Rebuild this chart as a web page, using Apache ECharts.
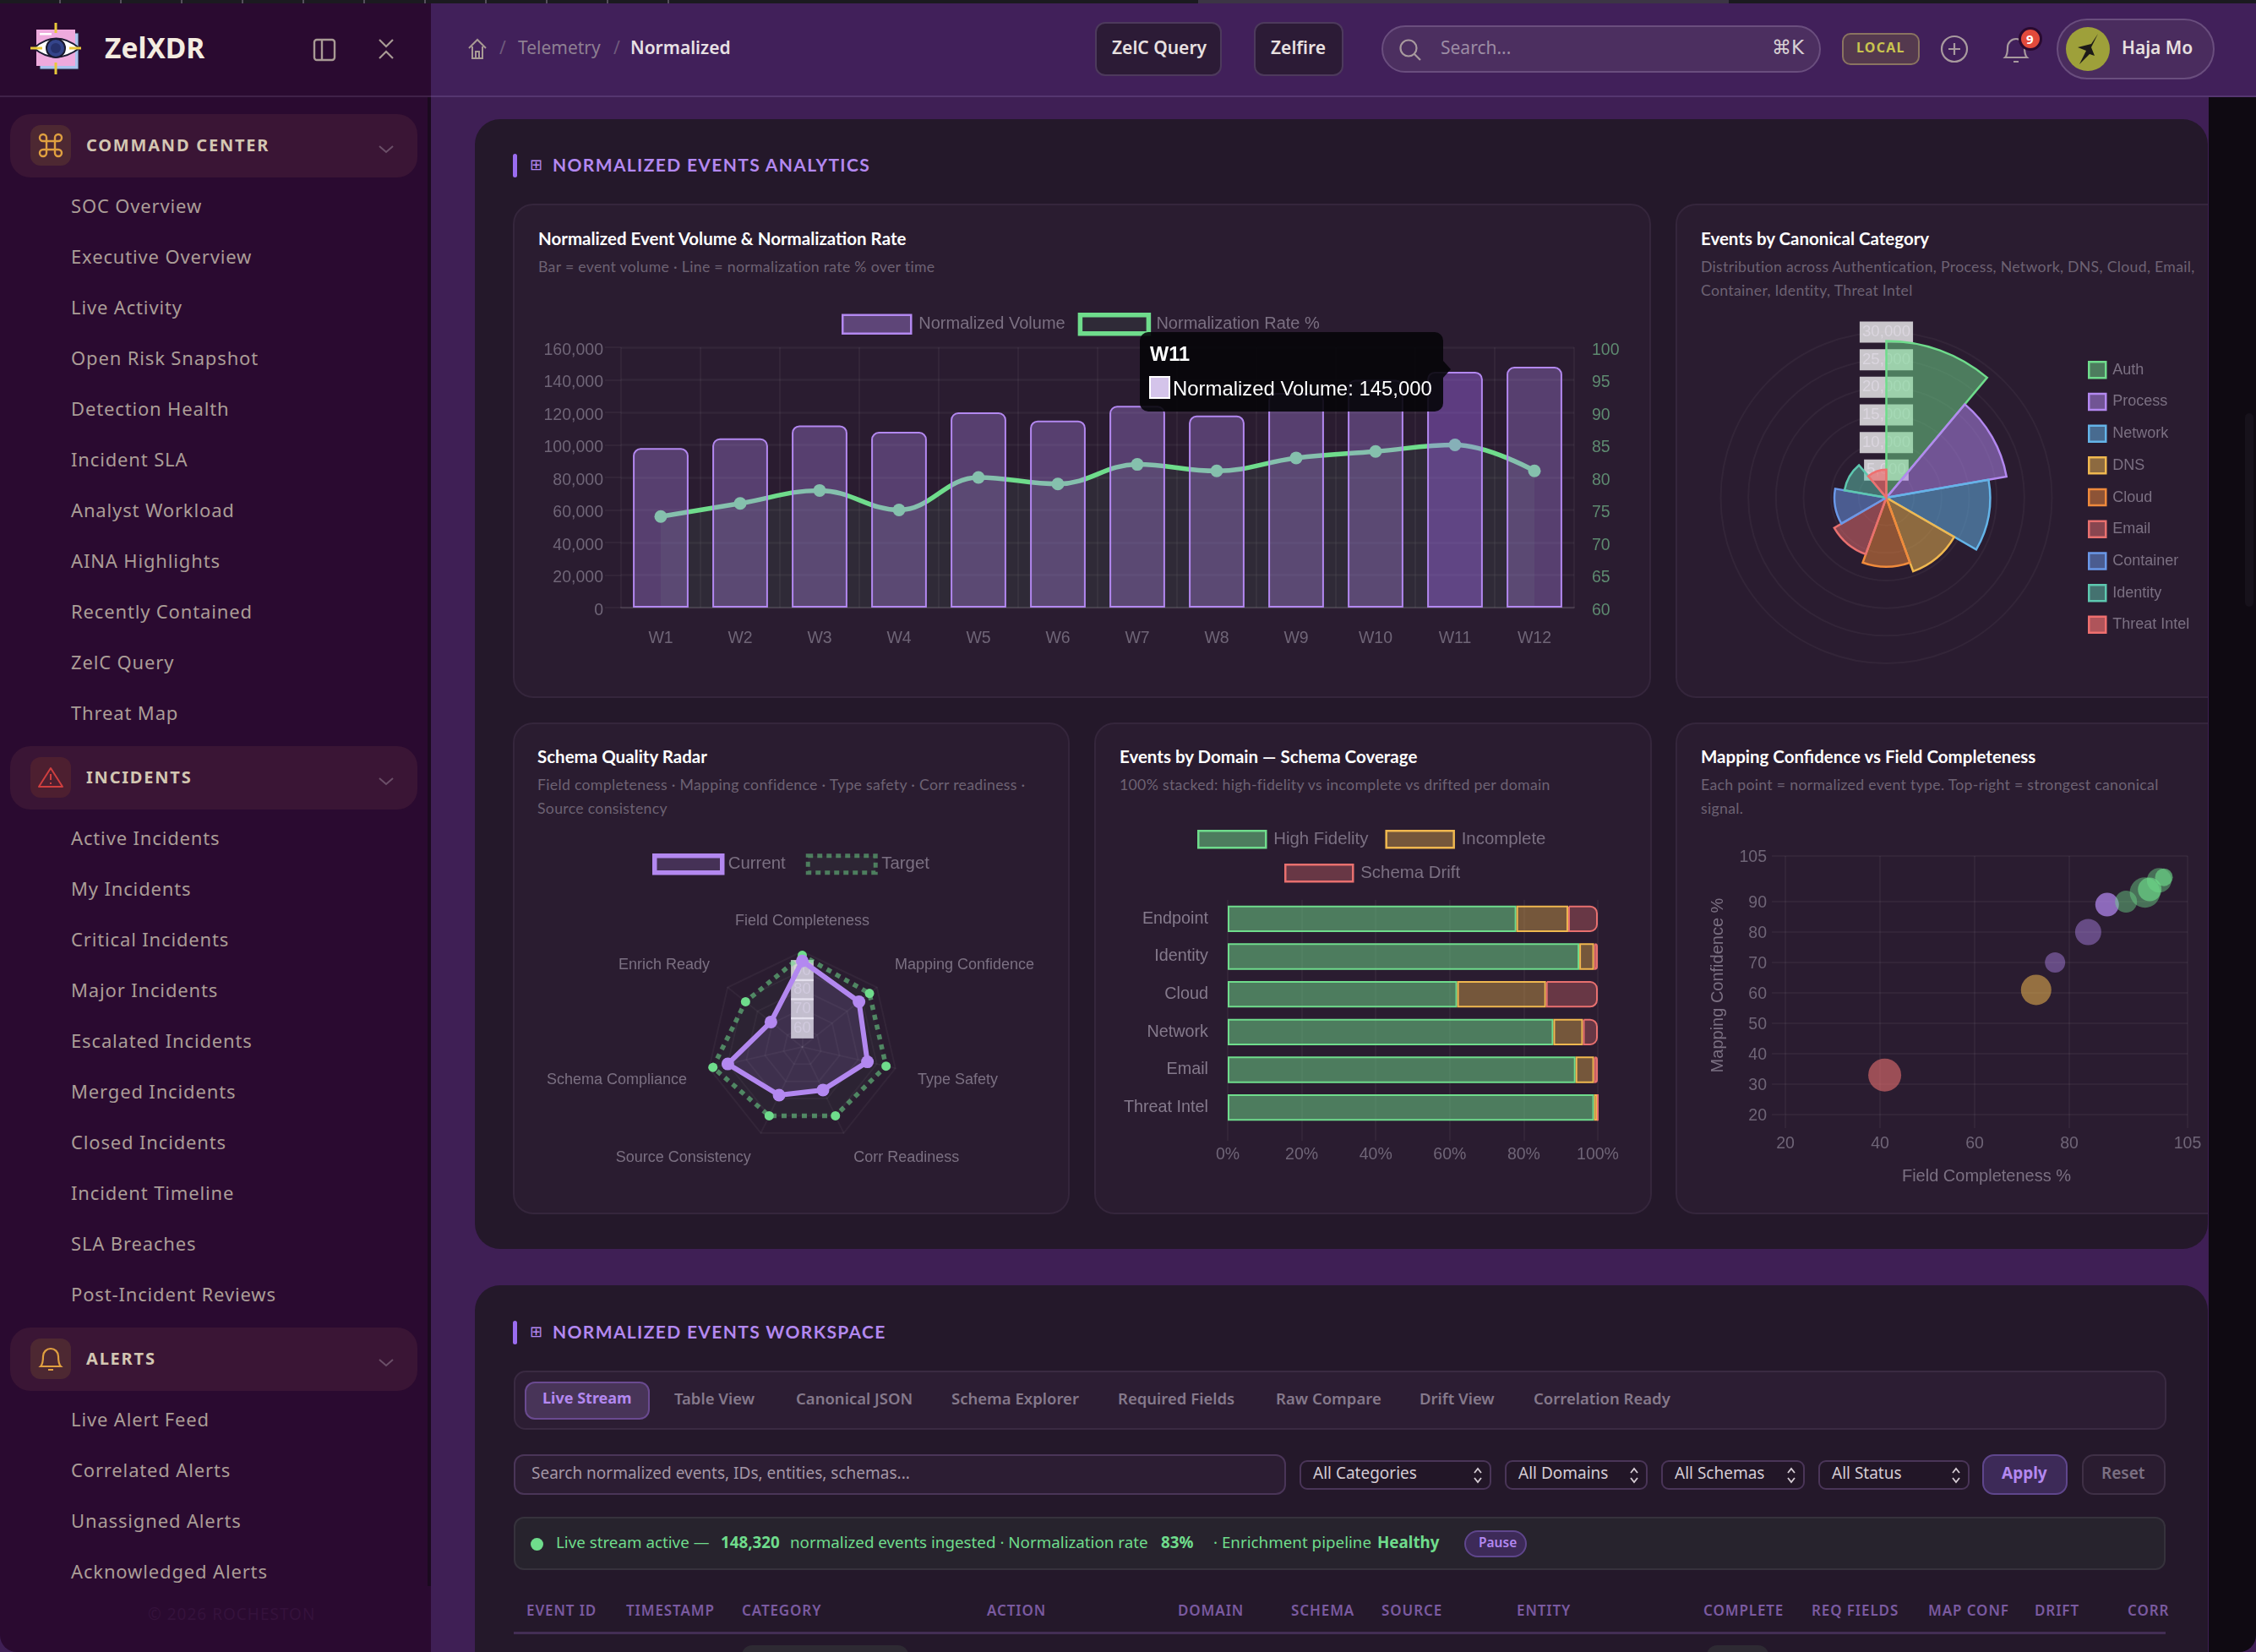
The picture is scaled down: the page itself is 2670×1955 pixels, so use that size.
<!DOCTYPE html>
<html>
<head>
<meta charset="utf-8">
<title>ZelXDR - Normalized</title>
<script src="https://cdn.jsdelivr.net/npm/echarts@6/dist/echarts.min.js"></script>
<style>
html, body { margin: 0; padding: 0; width: 2670px; height: 1955px; overflow: hidden; background: #3f1f55; font-family: "Noto Sans", sans-serif; }
#page { position: absolute; left: 0; top: 0; width: 2670px; height: 1955px; overflow: hidden; }
.box { position: absolute; box-sizing: border-box; }
.t { position: absolute; white-space: nowrap; transform: translateY(-50%); line-height: 1.2; }
.cardTitle { font-family: Lato, sans-serif; font-weight: 700; font-size: 20.5px; color: #ffffff; }
.cardSub { font-family: Lato, sans-serif; font-size: 17.7px; color: #6d6273; letter-spacing: .3px; }
.navItem { font-size: 22px; letter-spacing: .85px; color: #ab9d97; }
.navHead { font-size: 20px; font-weight: 700; letter-spacing: 1.8px; color: #d3c6b2; }
.secTitle { font-family: Lato, sans-serif; font-weight: 700; font-size: 21px; letter-spacing: 1.35px; color: #b388f0; }
.tab { font-size: 18.5px; font-weight: 600; color: #85798b; }
.thead { font-size: 17px; font-weight: 600; letter-spacing: .9px; color: #7a5aa0; }
.live { font-size: 18.8px; color: #6fdc8c; }
.chart { position: absolute; }
</style>
</head>
<body>
<div id="page"></div>
<script>
// 周次柱线图
var weeks = ['W1', 'W2', 'W3', 'W4', 'W5', 'W6', 'W7', 'W8', 'W9', 'W10', 'W11', 'W12'];
var normalizedVolume = [98000, 104000, 112000, 108000, 120000, 115000, 124000, 118000, 132000, 140000, 145000, 148000];
var normalizationRate = [74, 76, 78, 75, 80, 79, 82, 81, 83, 84, 85, 81];

// 分类极坐标图
var categories = ['Auth', 'Process', 'Network', 'DNS', 'Cloud', 'Email', 'Container', 'Identity', 'Threat Intel'];
var categoryEvents = [28400, 22100, 18800, 14200, 12500, 10900, 9400, 7700, 5100];

// 雷达图 (clockwise from the top)
var radarAxes = ['Field Completeness', 'Mapping Confidence', 'Type Safety', 'Corr Readiness', 'Source Consistency', 'Schema Compliance', 'Enrich Ready'];
var radarCurrent = [95, 88, 85, 75, 78, 90, 71];
var radarTarget = [98, 95, 95, 90, 90, 98, 88];

// 域堆叠图
var domains = ['Endpoint', 'Identity', 'Cloud', 'Network', 'Email', 'Threat Intel'];
var highFidelity = [78, 95, 62, 88, 94, 99];
var incomplete = [14, 4, 24, 8, 5, 1];
var schemaDrift = [8, 1, 14, 4, 1, 0];

// 气泡图
var bubbleCompleteness = [41, 73, 77, 84, 88, 92, 96, 97, 99, 100];
var bubbleConfidence = [33, 61, 70, 80, 89, 90, 93, 94, 97, 98];
var bubbleSize = [39, 36, 24, 31, 28, 26, 36, 28, 29, 21];
var bubbleTone = ['red', 'amber', 'purple', 'purple', 'purpleHi', 'green', 'green', 'greenHi', 'green', 'greenHi'];
var bubbleXTicks = [20, 40, 60, 80, 105];
var bubbleYTicks = [20, 30, 40, 50, 60, 70, 80, 90, 105];

// 侧边栏
var navCommand = ['SOC Overview', 'Executive Overview', 'Live Activity', 'Open Risk Snapshot', 'Detection Health', 'Incident SLA', 'Analyst Workload', 'AINA Highlights', 'Recently Contained', 'ZelC Query', 'Threat Map'];
var navIncidents = ['Active Incidents', 'My Incidents', 'Critical Incidents', 'Major Incidents', 'Escalated Incidents', 'Merged Incidents', 'Closed Incidents', 'Incident Timeline', 'SLA Breaches', 'Post-Incident Reviews'];
var navAlerts = ['Live Alert Feed', 'Correlated Alerts', 'Unassigned Alerts', 'Acknowledged Alerts'];

var GREEN = '#6fdc8c', PURPLE = '#b388f0', AMBER = '#f0b84f', RED = '#e8706f';
var TICK = '#6f6577', NAME = '#7b7082', GRID = 'rgba(255,255,255,0.045)';
var CHART_FONT = '"Liberation Sans", Arial, sans-serif';

var page = document.getElementById('page');

function box(x, y, w, h, css, parent) {
    var d = document.createElement('div');
    d.className = 'box';
    d.style.cssText = 'left:' + x + 'px;top:' + y + 'px;width:' + w + 'px;height:' + h + 'px;' + (css || '');
    (parent || page).appendChild(d);
    return d;
}

function text(x, y, str, cls, css, parent) {
    var d = document.createElement('div');
    d.className = 't ' + (cls || '');
    d.style.cssText = 'left:' + x + 'px;top:' + y + 'px;' + (css || '');
    d.textContent = str;
    (parent || page).appendChild(d);
    return d;
}

function svg(x, y, w, h, inner, vb) {
    var d = box(x, y, w, h);
    d.innerHTML = '<svg width="' + w + '" height="' + h + '" viewBox="' + (vb || ('0 0 ' + w + ' ' + h)) + '" fill="none" xmlns="http://www.w3.org/2000/svg">' + inner + '</svg>';
    return d;
}

function chartDiv(x, y, w, h) {
    var d = document.createElement('div');
    d.className = 'chart';
    d.style.cssText = 'left:' + x + 'px;top:' + y + 'px;width:' + w + 'px;height:' + h + 'px;';
    page.appendChild(d);
    return d;
}

// ---------- 页面外壳 ----------
function drawShell() {
    // top strip
    box(0, 0, 2670, 4, 'background:repeating-linear-gradient(90deg,#1b1a20 0,#1b1a20 70px,#55505c 70px,#55505c 72px);');
    box(800, 0, 1870, 4, 'background:#1b1a20;');
    box(1418, 0, 628, 4, 'background:#3c3545;');

    // header
    box(510, 4, 2160, 109, 'background:#41205a;');
    box(510, 113, 2160, 2, 'background:#553670;');

    // main scrollbar gutter
    box(2614, 115, 56, 1840, 'background:#0f0a12;border-bottom-right-radius:20px;');
    box(2657, 489, 10, 229, 'background:#17121b;border-radius:5px;');

    // sidebar
    box(0, 4, 510, 1951, 'background:#2a0a30;border-bottom-left-radius:20px;');
    box(0, 113, 510, 2, 'background:#3f2148;');
    box(506, 115, 4, 1762, 'background:#1a0a1e;');

    svg(34, 24, 66, 66,
        '<rect x="13" y="15" width="46" height="43" fill="#a9c4ee" stroke="#23233a" stroke-width="1"/>' +
        '<rect x="9" y="11" width="46" height="43" fill="#eeaadd"/>' +
        '<rect x="13" y="15" width="14" height="2.5" fill="#fff"/>' +
        '<path d="M6 33 Q32 10 60 33 Q32 54 6 33Z" fill="#fff" stroke="#1a1a30" stroke-width="2"/>' +
        '<circle cx="32" cy="33" r="11" fill="#34448a" stroke="#1a1a30" stroke-width="2"/>' +
        '<circle cx="32" cy="33" r="6" fill="#26306a"/>' +
        '<path d="M32 3V15M32 50V64M2 33H16M48 33H62" stroke="#e8c83a" stroke-width="3"/>');
    text(124, 56, 'ZelXDR', '', 'font-size:33.5px;font-weight:700;color:#f4ece0;');
    svg(370, 45, 28, 28, '<rect x="2" y="2" width="24" height="24" rx="3" stroke="#a89a94" stroke-width="2.4"/><path d="M11 2V26" stroke="#a89a94" stroke-width="2.4"/>');
    svg(447, 44, 20, 28, '<path d="M2 3L10 11L18 3M2 25L10 17L18 25" stroke="#a89a94" stroke-width="2.2"/>');

    // sidebar groups
    function group(y, y0, title, items, icon, iconBg) {
        box(12, y - 37, 482, 75, 'background:#3a1535;border-radius:24px;');
        box(36, y - 24, 48, 48, 'background:' + iconBg + ';border-radius:12px;');
        svg(42, y - 18, 36, 36, icon);
        text(102, y, title, 'navHead');
        svg(447, y - 6, 20, 12, '<path d="M2 2L10 9L18 2" stroke="#6b4f68" stroke-width="2"/>');
        items.forEach(function (s, i) {
            text(84, y0 + i * 60, s, 'navItem');
        });
    }
    group(172, 243, 'COMMAND CENTER', navCommand,
        '<path d="M13 13H23V23H13ZM13 13V9A4 4 0 1 0 9 13H13M23 13H27A4 4 0 1 0 23 9V13M23 23V27A4 4 0 1 0 27 23H23M13 23H9A4 4 0 1 0 13 27V23" stroke="#e0a040" stroke-width="2.4"/>', '#4d2832');
    group(920, 991, 'INCIDENTS', navIncidents,
        '<path d="M18 7L32 29H4Z" stroke="#cf3f3f" stroke-width="2" stroke-linejoin="round"/><path d="M18 14V21M18 24V26" stroke="#cf3f3f" stroke-width="2"/>', '#4d1f30');
    group(1608, 1679, 'ALERTS', navAlerts,
        '<path d="M6 27C9 24 9 20 9 15A9 9 0 0 1 27 15C27 20 27 24 30 27ZM15 31H21" stroke="#e0a040" stroke-width="2.2"/>', '#4d2832');
    text(175, 1910, '© 2026 ROCHESTON', '', 'font-size:19px;letter-spacing:1px;color:#35123c;');

    // breadcrumb
    svg(553, 44, 24, 28, '<path d="M2 13L12 3L22 13M6 11V25H18V11M10 25V17H14V25" stroke="#a89a94" stroke-width="2"/>');
    text(591, 57, '/', '', 'font-size:21px;color:#6f5a7c;');
    text(613, 57, 'Telemetry', '', 'font-size:21px;color:#8e7f92;');
    text(726, 57, '/', '', 'font-size:21px;color:#6f5a7c;');
    text(746, 57, 'Normalized', '', 'font-size:21px;font-weight:600;color:#e8e0e4;');

    // header buttons
    box(1296, 26, 150, 64, 'background:#2c1b36;border:2px solid #4d3a5c;border-radius:12px;');
    text(1316, 57, 'ZelC Query', '', 'font-size:21px;font-weight:600;color:#e8e0e0;');
    box(1484, 26, 106, 64, 'background:#2c1b36;border:2px solid #4d3a5c;border-radius:12px;');
    text(1504, 57, 'Zelfire', '', 'font-size:21px;font-weight:600;color:#e8e0e0;');
    box(1635, 30, 520, 56, 'background:#4c2f60;border:2px solid #6a4e7e;border-radius:28px;');
    svg(1654, 44, 30, 30, '<circle cx="13" cy="13" r="9.5" stroke="#a89a9e" stroke-width="2.2"/><path d="M20 20L27 27" stroke="#a89a9e" stroke-width="2.2"/>');
    text(1705, 57, 'Search...', '', 'font-size:21px;color:#9c8ca4;');
    text(2097, 57, '⌘K', '', 'font-family:\'DejaVu Sans\';font-size:23px;color:#d8d0d4;');
    box(2180, 39, 92, 38, 'background:#54394e;border:2px solid #8a7460;border-radius:10px;');
    text(2197, 57, 'LOCAL', '', 'font-size:16px;font-weight:700;letter-spacing:1.2px;color:#c9c44f;');
    svg(2296, 41, 34, 34, '<circle cx="17" cy="17" r="15" stroke="#a89a9e" stroke-width="2.2"/><path d="M17 10V24M10 17H24" stroke="#a89a9e" stroke-width="2.2"/>');
    svg(2370, 42, 32, 34, '<path d="M3 26C6 23 6 19 6 14A10 10 0 0 1 26 14C26 19 26 23 29 26ZM13 31H19" stroke="#a89a9e" stroke-width="2.2"/>');
    box(2389, 32, 28, 28, 'background:#e24a3c;border:3px solid #2a0a30;border-radius:50%;');
    text(2398, 46, '9', '', 'font-size:15px;font-weight:700;color:#fff;');
    box(2434, 22, 187, 72, 'background:#4a2c5e;border:2px solid #6a4e7e;border-radius:36px;');
    svg(2445, 32, 52, 52, '<circle cx="26" cy="26" r="26" fill="#9ea03a"/><path d="M38 8L30 20L14 24L24 28L16 44L28 32L34 34L30 24Z" fill="#1c1a18"/>');
    text(2511, 57, 'Haja Mo', '', 'font-size:21px;font-weight:600;color:#e8e0e0;');

    // analytics panel
    box(562, 141, 2051, 1337, 'background:#24182a;border-radius:30px 30px 30px 30px;');
    box(607, 182, 5, 28, 'background:#9a6cf0;border-radius:3px;');
    text(627, 195, '⊞', '', 'font-family:\'DejaVu Sans\';font-size:18px;color:#b388f0;');
    text(654, 195, 'NORMALIZED EVENTS ANALYTICS', 'secTitle');

    var cardCss = 'background:#2a1c30;border:2px solid #35263c;border-radius:24px;';
    box(607, 241, 1347, 585, cardCss);
    box(1983, 241, 630, 585, cardCss + 'border-right:none;border-radius:24px 0 0 24px;');
    box(607, 855, 659, 582, cardCss);
    box(1295, 855, 660, 582, cardCss);
    box(1983, 855, 630, 582, cardCss + 'border-right:none;border-radius:24px 0 0 24px;');

    text(637, 282, 'Normalized Event Volume & Normalization Rate', 'cardTitle');
    text(637, 316, 'Bar = event volume · Line = normalization rate % over time', 'cardSub');
    text(2013, 282, 'Events by Canonical Category', 'cardTitle');
    text(2013, 316, 'Distribution across Authentication, Process, Network, DNS, Cloud, Email,', 'cardSub');
    text(2013, 344, 'Container, Identity, Threat Intel', 'cardSub');
    text(636, 895, 'Schema Quality Radar', 'cardTitle');
    text(636, 929, 'Field completeness · Mapping confidence · Type safety · Corr readiness ·', 'cardSub');
    text(636, 957, 'Source consistency', 'cardSub');
    text(1325, 895, 'Events by Domain — Schema Coverage', 'cardTitle');
    text(1325, 929, '100% stacked: high-fidelity vs incomplete vs drifted per domain', 'cardSub');
    text(2013, 895, 'Mapping Confidence vs Field Completeness', 'cardTitle');
    text(2013, 929, 'Each point = normalized event type. Top-right = strongest canonical', 'cardSub');
    text(2013, 957, 'signal.', 'cardSub');

    // workspace panel
    box(562, 1521, 2051, 460, 'background:#24182a;border-radius:30px 30px 0 0;');
    box(607, 1563, 5, 28, 'background:#9a6cf0;border-radius:3px;');
    text(627, 1576, '⊞', '', 'font-family:\'DejaVu Sans\';font-size:18px;color:#b388f0;');
    text(654, 1576, 'NORMALIZED EVENTS WORKSPACE', 'secTitle');

    box(608, 1622, 1956, 70, 'background:#2c1d33;border:2px solid #3a2a42;border-radius:14px;');
    box(621, 1635, 148, 45, 'background:#483458;border:2px solid #6a4a90;border-radius:12px;');
    text(642, 1655, 'Live Stream', '', 'font-size:18px;font-weight:700;color:#b388f0;');
    var tabNames = ['Table View', 'Canonical JSON', 'Schema Explorer', 'Required Fields', 'Raw Compare', 'Drift View', 'Correlation Ready'];
    var tabX = [798, 942, 1126, 1323, 1510, 1680, 1815];
    tabNames.forEach(function (s, i) { text(tabX[i], 1655, s, 'tab'); });

    box(608, 1721, 914, 48, 'background:#2c1d33;border:2px solid #4a3558;border-radius:12px;');
    text(629, 1743, 'Search normalized events, IDs, entities, schemas...', '', 'font-size:19px;color:#a497a6;');
    var selNames = ['All Categories', 'All Domains', 'All Schemas', 'All Status'];
    var selX = [1538, 1781, 1966, 2152], selW = [227, 169, 170, 179];
    selNames.forEach(function (s, i) {
        box(selX[i], 1728, selW[i], 35, 'background:#221627;border:2px solid #4a3558;border-radius:9px;');
        text(selX[i] + 16, 1743, s, '', 'font-size:19px;color:#d5ccd4;');
        svg(selX[i] + selW[i] - 22, 1735, 12, 22, '<path d="M2 8L6 3L10 8M2 14L6 19L10 14" stroke="#d5ccd4" stroke-width="1.8"/>');
    });
    box(2346, 1721, 101, 48, 'background:#3d2a58;border:2px solid #5f468c;border-radius:14px;');
    text(2369, 1743, 'Apply', '', 'font-size:19px;font-weight:700;color:#b388f0;');
    box(2464, 1721, 99, 48, 'background:#2a1c30;border:2px solid #3f3046;border-radius:14px;');
    text(2487, 1743, 'Reset', '', 'font-size:19px;font-weight:600;color:#7b7082;');

    box(608, 1795, 1955, 63, 'background:#27232d;border:2px solid #36323c;border-radius:12px;');
    box(628, 1820, 15, 15, 'background:#6fdc8c;border-radius:50%;');
    text(658, 1825, 'Live stream active —', 'live');
    text(853, 1825, '148,320', 'live', 'font-weight:700;');
    text(935, 1825, 'normalized events ingested · Normalization rate', 'live');
    text(1374, 1825, '83%', 'live', 'font-weight:700;');
    text(1436, 1825, '· Enrichment pipeline', 'live');
    text(1630, 1825, 'Healthy', 'live', 'font-weight:700;');
    box(1733, 1811, 74, 32, 'background:#3d2a58;border:2px solid #5f468c;border-radius:16px;');
    text(1750, 1825, 'Pause', '', 'font-size:15.5px;font-weight:600;color:#b388f0;');

    var headClip = box(608, 1890, 1959, 34, 'overflow:hidden;');
    var headNames = ['EVENT ID', 'TIMESTAMP', 'CATEGORY', 'ACTION', 'DOMAIN', 'SCHEMA', 'SOURCE', 'ENTITY', 'COMPLETE', 'REQ FIELDS', 'MAP CONF', 'DRIFT', 'CORRELATION'];
    var headX = [623, 741, 878, 1168, 1394, 1528, 1635, 1795, 2016, 2144, 2282, 2408, 2518];
    headNames.forEach(function (s, i) { text(headX[i] - 608, 16, s, 'thead', '', headClip); });
    box(608, 1931, 1955, 3, 'background:#432e55;');
    box(878, 1947, 197, 30, 'background:#2e2a33;border-radius:12px 12px 0 0;');
    box(2020, 1947, 73, 30, 'background:#2e2a33;border-radius:12px 12px 0 0;');
}

drawShell();

// value axis labels sit a little under their gridline in the reference
function loweredLabel(color, pad, fmt) {
    return {
        fontSize: 19.5,
        margin: 21,
        formatter: function (v) { return '{v|' + (fmt ? fmt(v) : v) + '}'; },
        rich: { v: { color: color, fontSize: 19.5, fontFamily: CHART_FONT, padding: [pad, 0, 0, 0] } }
    };
}

// ---------- 柱线图 ----------
function volumeChart() {
    var myChart = echarts.init(chartDiv(607, 241, 1347, 585), null, { renderer: 'canvas' });
    var hoverIndex = weeks.indexOf('W11');
    var option = {
        animation: false,
        textStyle: { fontFamily: CHART_FONT },
        legend: {
            left: 384, top: 124, itemWidth: 81, itemHeight: 22, itemGap: 15,
            selectedMode: false,
            textStyle: { color: NAME, fontSize: 20, padding: [0, 0, 0, 4] },
            data: [
                { name: 'Normalized Volume', icon: 'rect', itemStyle: { color: 'rgba(179,136,240,0.38)', borderColor: PURPLE, borderWidth: 2.5 } },
                { name: 'Normalization Rate %', icon: 'rect', itemStyle: { color: 'rgba(111,220,140,0.08)', borderColor: GREEN, borderWidth: 5.5 } }
            ]
        },
        tooltip: {
            trigger: 'item',
            alwaysShowContent: true,
            transitionDuration: 0,
            position: [742, 152],
            padding: 0,
            borderWidth: 0,
            backgroundColor: 'rgba(6,5,9,0.9)',
            extraCssText: 'border-radius:10px;box-shadow:none;width:359px;height:94px;box-sizing:border-box;',
            formatter: function (p) {
                return '<div style="position:relative;width:359px;height:94px;font-family:' + "'Liberation Sans'" + ';color:#fff;">' +
                    '<div style="position:absolute;left:12px;top:13px;font-weight:700;font-size:23.5px;line-height:27px;">' + p.name + '</div>' +
                    '<div style="position:absolute;left:11px;top:52px;width:25px;height:27px;box-sizing:border-box;background:#d4c4ea;border:2px solid #fff;"></div>' +
                    '<div style="position:absolute;left:39px;top:53px;font-size:23.9px;line-height:27px;white-space:nowrap;">' + p.seriesName + ': ' + p.value.toLocaleString('en-US') + '</div>' +
                    '<div style="position:absolute;right:-9px;top:34px;width:0;height:0;border-top:10px solid transparent;border-bottom:10px solid transparent;border-left:9px solid rgba(6,5,9,0.9);"></div>' +
                    '</div>';
            }
        },
        grid: { left: 128, right: 91, top: 170, bottom: 107 },
        xAxis: {
            type: 'category',
            data: weeks,
            axisLine: { lineStyle: { color: 'rgba(255,255,255,0.1)', width: 2 } },
            axisTick: { length: 16, lineStyle: { color: GRID, width: 2 } },
            axisLabel: { color: TICK, fontSize: 19.5, margin: 27 },
            splitLine: { show: true, lineStyle: { color: GRID, width: 2 } }
        },
        yAxis: [
            {
                type: 'value', min: 0, max: 160000, interval: 20000,
                axisLine: { show: false },
                axisTick: { show: true, length: 19, lineStyle: { color: GRID, width: 2 } },
                axisLabel: loweredLabel(TICK, 7, function (v) { return v.toLocaleString('en-US'); }),
                splitLine: { lineStyle: { color: GRID, width: 2.5 } }
            },
            {
                type: 'value', min: 60, max: 100, interval: 5,
                axisLine: { show: false },
                axisTick: { show: false },
                axisLabel: loweredLabel('#5e8a70', 7),
                splitLine: { show: false }
            }
        ],
        series: [
            {
                name: 'Normalized Volume',
                type: 'bar',
                z: 3,
                barWidth: '70%',
                itemStyle: { color: 'rgba(179,136,240,0.33)', borderColor: PURPLE, borderWidth: 2, borderRadius: [8, 8, 0, 0] },
                data: normalizedVolume.map(function (v, i) {
                    return i === hoverIndex ? { value: v, itemStyle: { color: 'rgba(170,110,250,0.4)' } } : v;
                })
            },
            {
                name: 'Normalization Rate %',
                type: 'line',
                yAxisIndex: 1,
                z: 2,
                smooth: 0.4,
                symbol: 'circle',
                symbolSize: 15,
                lineStyle: { color: GREEN, width: 5.5 },
                itemStyle: { color: GREEN },
                areaStyle: { color: 'rgba(111,220,140,0.11)' },
                data: normalizationRate
            }
        ]
    };
    myChart.setOption(option);
    myChart.dispatchAction({ type: 'showTip', seriesIndex: 0, dataIndex: hoverIndex });
    window.addEventListener('resize', myChart.resize);
}

// ---------- 极坐标图 ----------
function categoryChart() {
    var myChart = echarts.init(chartDiv(1983, 241, 630, 585), null, { renderer: 'canvas' });
    var strokes = [GREEN, PURPLE, '#64b4e8', AMBER, '#ef8a3c', RED, '#6a98e8', '#5ec8b0', '#ef6f6f'];
    var fills = ['rgba(111,220,140,0.5)', 'rgba(179,136,240,0.52)', 'rgba(100,180,232,0.52)', 'rgba(240,184,79,0.5)', 'rgba(239,138,60,0.5)', 'rgba(232,112,111,0.5)', 'rgba(106,152,232,0.52)', 'rgba(94,200,176,0.5)', 'rgba(239,111,111,0.68)'];
    var option = {
        animation: false,
        textStyle: { fontFamily: CHART_FONT },
        legend: {
            orient: 'vertical', left: 483, top: 181,
            itemWidth: 20, itemHeight: 19, itemGap: 16.2,
            selectedMode: false,
            textStyle: { color: NAME, fontSize: 18, padding: [0, 0, 0, 3] },
            data: categories.map(function (c, i) {
                return { name: c, icon: 'rect', itemStyle: { color: fills[i], borderColor: strokes[i], borderWidth: 2.5 } };
            })
        },
        polar: { center: [249.5, 348], radius: 196 },
        angleAxis: { type: 'category', data: categories, startAngle: 90, clockwise: true, show: false },
        radiusAxis: {
            min: 0, max: 30000, interval: 5000, z: 0,
            axisLine: { show: false },
            axisTick: { show: false },
            axisLabel: {
                showMinLabel: false, margin: 0, align: 'center', verticalAlign: 'middle',
                fontSize: 18.7, color: '#dbd6df',
                backgroundColor: 'rgba(255,255,255,0.75)', padding: [3, 3],
                formatter: function (v) { return v.toLocaleString('en-US'); }
            },
            splitLine: { show: true, lineStyle: { color: GRID, width: 2 } }
        },
        series: categories.map(function (c, i) {
            return {
                name: c,
                type: 'bar',
                coordinateSystem: 'polar',
                stack: 'category',
                barWidth: '100%',
                z: 3,
                itemStyle: { color: fills[i], borderColor: strokes[i], borderWidth: 2.5 },
                data: categoryEvents.map(function (v, j) { return j === i ? v : null; })
            };
        })
    };
    myChart.setOption(option);
    window.addEventListener('resize', myChart.resize);
}

// ---------- 雷达图 ----------
// ECharts lays indicators out counter-clockwise, the picture goes clockwise
function radarOrder(arr) {
    return [arr[0]].concat(arr.slice(1).reverse());
}

function radarChart() {
    var myChart = echarts.init(chartDiv(607, 855, 659, 582), null, { renderer: 'canvas' });
    var nameFont = { color: NAME, fontSize: 18, fontFamily: CHART_FONT };
    var option = {
        animation: false,
        textStyle: { fontFamily: CHART_FONT },
        legend: {
            left: 160, top: 150, itemWidth: 80, itemHeight: 20, itemGap: 24,
            selectedMode: false,
            textStyle: { color: NAME, fontSize: 20.4, padding: [0, 0, 0, 2] },
            data: [
                { name: 'Current', icon: 'rect', itemStyle: { color: 'rgba(179,136,240,0.2)', borderColor: PURPLE, borderWidth: 5.5 } },
                { name: 'Target', icon: 'rect', itemStyle: { color: 'rgba(111,220,140,0.05)', borderColor: 'rgba(111,220,140,0.5)', borderWidth: 5, borderType: [6, 5] } }
            ]
        },
        radar: {
            center: [342.5, 384],
            radius: 113,
            startAngle: 90,
            shape: 'polygon',
            splitNumber: 5,
            nameGap: 27,
            axisName: {
                color: NAME,
                fontSize: 18,
                // nudges the names to where the reference puts them
                formatter: function (name) {
                    var i = radarAxes.indexOf(name);
                    var row = i === 0 ? 'top' : (i === 1 || i === 6) ? 'upper' : (i === 2 || i === 5) ? 'middle' : 'lower';
                    return '{' + row + '|' + name + '}';
                },
                rich: {
                    top: Object.assign({}, nameFont),
                    upper: Object.assign({ padding: [0, 0, 20, 0] }, nameFont),
                    middle: Object.assign({ padding: [16, 0, 0, 0] }, nameFont),
                    lower: Object.assign({ padding: [9, 0, 0, 0] }, nameFont)
                }
            },
            axisLine: { lineStyle: { color: GRID, width: 2 } },
            axisTick: { show: false },
            splitLine: { lineStyle: { color: GRID, width: 2 } },
            splitArea: { show: false },
            axisLabel: { show: false },
            z: 0,
            indicator: radarOrder(radarAxes).map(function (name, i) {
                var ind = { name: name, min: 50, max: 100 };
                if (i === 0) {
                    ind.axisLabel = {
                        show: true, showMinLabel: false, margin: 0, align: 'center', verticalAlign: 'middle',
                        fontSize: 18.7, color: '#dbd6df',
                        backgroundColor: 'rgba(255,255,255,0.75)', padding: [3, 3]
                    };
                }
                return ind;
            })
        },
        series: [
            {
                type: 'radar',
                z: 3,
                data: [
                    {
                        name: 'Target',
                        value: radarOrder(radarTarget),
                        symbol: 'circle', symbolSize: 11,
                        itemStyle: { color: GREEN },
                        lineStyle: { color: 'rgba(111,220,140,0.55)', width: 5.5, type: [6, 6] },
                        areaStyle: { color: 'rgba(111,220,140,0.05)' }
                    },
                    {
                        name: 'Current',
                        value: radarOrder(radarCurrent),
                        symbol: 'circle', symbolSize: 15,
                        itemStyle: { color: PURPLE },
                        lineStyle: { color: PURPLE, width: 6 },
                        areaStyle: { color: 'rgba(179,136,240,0.2)' }
                    }
                ]
            }
        ]
    };
    myChart.setOption(option);
    window.addEventListener('resize', myChart.resize);
}

// ---------- 堆叠条形图 ----------
function domainChart() {
    var myChart = echarts.init(chartDiv(1295, 855, 660, 582), null, { renderer: 'canvas' });
    var fidelityFill = 'rgba(111,220,140,0.5)', incompleteFill = 'rgba(240,184,79,0.38)', driftFill = 'rgba(232,112,111,0.33)';
    function legendItem(name, fill, stroke) {
        return { name: name, icon: 'rect', itemStyle: { color: fill, borderColor: stroke, borderWidth: 2.5 } };
    }
    function stackBar(name, values, fill, stroke, radius) {
        return {
            name: name, type: 'bar', stack: 'domain', barWidth: '70%', z: 3,
            itemStyle: { color: fill, borderColor: stroke, borderWidth: 2, borderRadius: radius },
            data: values
        };
    }
    var option = {
        animation: false,
        textStyle: { fontFamily: CHART_FONT },
        legend: [
            {
                left: 117, top: 122, itemWidth: 80, itemHeight: 20, itemGap: 20, selectedMode: false,
                textStyle: { color: NAME, fontSize: 20.4, padding: [0, 0, 0, 4] },
                data: [legendItem('High Fidelity', fidelityFill, GREEN), legendItem('Incomplete', incompleteFill, AMBER)]
            },
            {
                left: 220, top: 162, itemWidth: 80, itemHeight: 20, selectedMode: false,
                textStyle: { color: NAME, fontSize: 20.4, padding: [0, 0, 0, 4] },
                data: [legendItem('Schema Drift', driftFill, RED)]
            }
        ],
        grid: { left: 158, right: 64, top: 210, bottom: 104 },
        xAxis: {
            type: 'value', min: 0, max: 100, interval: 20,
            axisLine: { show: false },
            axisTick: { show: true, length: 17, lineStyle: { color: GRID, width: 2 } },
            axisLabel: { color: TICK, fontSize: 19.5, margin: 24, formatter: '{value}%' },
            splitLine: { lineStyle: { color: GRID, width: 2 } }
        },
        yAxis: {
            type: 'category', inverse: true, data: domains,
            axisLine: { show: false },
            axisTick: { show: false },
            axisLabel: { color: '#857a8c', fontSize: 19.8, margin: 23 }
        },
        series: [
            stackBar('High Fidelity', highFidelity, fidelityFill, GREEN, 0),
            stackBar('Incomplete', incomplete, incompleteFill, AMBER, 0),
            stackBar('Schema Drift', schemaDrift, driftFill, RED, [0, 8, 8, 0])
        ]
    };
    myChart.setOption(option);
    window.addEventListener('resize', myChart.resize);
}

// ---------- 气泡图 ----------
function bubbleChart() {
    var myChart = echarts.init(chartDiv(1983, 855, 630, 582), null, { renderer: 'canvas' });
    var toneColor = {
        red: 'rgba(232,112,111,0.75)',
        amber: 'rgba(240,184,79,0.68)',
        purple: 'rgba(179,136,240,0.55)',
        purpleHi: 'rgba(179,136,240,0.9)',
        green: 'rgba(111,220,140,0.55)',
        greenHi: 'rgba(111,220,140,0.8)'
    };
    var points = bubbleCompleteness.map(function (x, i) {
        return {
            value: [x, bubbleConfidence[i], bubbleSize[i]],
            itemStyle: { color: toneColor[bubbleTone[i]] }
        };
    });
    var axisCommon = {
        type: 'value',
        axisLine: { show: false },
        splitLine: { lineStyle: { color: GRID, width: 2 } },
        nameLocation: 'middle',
        nameTextStyle: { color: NAME, fontSize: 20 }
    };
    var option = {
        animation: false,
        textStyle: { fontFamily: CHART_FONT },
        grid: { left: 130, right: 24, top: 158, bottom: 118 },
        xAxis: Object.assign({}, axisCommon, {
            min: 20, max: 105, name: 'Field Completeness %', nameGap: 63,
            axisTick: { show: true, length: 16, customValues: bubbleXTicks, lineStyle: { color: GRID, width: 2 } },
            axisLabel: { color: TICK, fontSize: 19.5, margin: 25, customValues: bubbleXTicks }
        }),
        yAxis: Object.assign({}, axisCommon, {
            min: 20, max: 105, name: 'Mapping Confidence %', nameGap: 70,
            axisTick: { show: true, length: 16, customValues: bubbleYTicks, lineStyle: { color: GRID, width: 2 } },
            axisLabel: Object.assign(loweredLabel(TICK, 4), { customValues: bubbleYTicks, margin: 22 })
        }),
        series: [
            {
                type: 'scatter',
                z: 3,
                symbolSize: function (d) { return d[2]; },
                data: points
            }
        ]
    };
    myChart.setOption(option);
    window.addEventListener('resize', myChart.resize);
}

volumeChart();
categoryChart();
radarChart();
domainChart();
bubbleChart();
</script>
</body>
</html>
